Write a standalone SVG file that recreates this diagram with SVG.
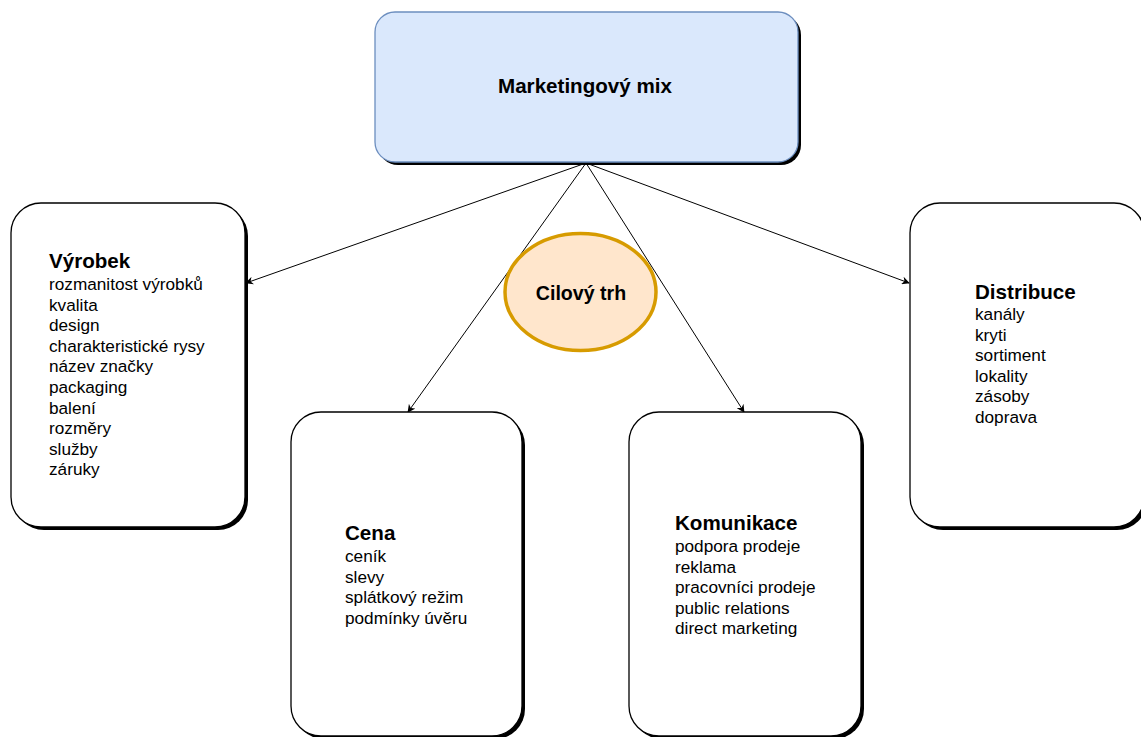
<svg xmlns="http://www.w3.org/2000/svg" width="1141" height="737" viewBox="0 0 1141 737">
<style>
.box{fill:#fff;stroke:#000;stroke-width:1.3}
.sh{fill:#000}
.t{font-family:"Liberation Sans",Arial,sans-serif;font-size:17.2px;fill:#000}
.b{font-weight:bold;font-size:20.6px}
.c{stroke:#000;stroke-width:1;fill:none;marker-end:url(#ah)}
</style>
<defs>
<marker id="ah" viewBox="0 0 10 10" refX="9" refY="5" markerWidth="8" markerHeight="8" orient="auto" markerUnits="userSpaceOnUse">
<path d="M0,0 L10,5 L0,10 L3,5 Z" fill="#000"/>
</marker>
</defs>
<g id="connectors">
<line class="c" x1="586" y1="163" x2="246" y2="283"/>
<line class="c" x1="586" y1="163" x2="408" y2="412"/>
<line class="c" x1="586" y1="163" x2="744" y2="412"/>
<line class="c" x1="586" y1="163" x2="909" y2="283"/>
</g>
<g id="mix">
<rect class="sh" x="378" y="15" width="423" height="150" rx="20"/>
<rect x="375" y="12" width="423" height="150" rx="20" fill="#dae8fc" stroke="#6c8ebf" stroke-width="1.3"/>
<text class="t b" x="585" y="93" text-anchor="middle">Marketingový mix</text>
</g>
<g id="vyrobek">
<rect class="sh" x="14" y="206" width="234" height="324" rx="30"/>
<rect class="box" x="11" y="203" width="234" height="324" rx="30"/>
<text class="t"><tspan class="b" x="49" y="268">Výrobek</tspan><tspan x="49" y="290">rozmanitost výrobků</tspan><tspan x="49" y="310.6">kvalita</tspan><tspan x="49" y="331.2">design</tspan><tspan x="49" y="351.8">charakteristické rysy</tspan><tspan x="49" y="372.4">název značky</tspan><tspan x="49" y="393">packaging</tspan><tspan x="49" y="413.6">balení</tspan><tspan x="49" y="434.2">rozměry</tspan><tspan x="49" y="454.8">služby</tspan><tspan x="49" y="475.4">záruky</tspan></text>
</g>
<g id="cena">
<rect class="sh" x="294" y="415" width="231" height="324" rx="30"/>
<rect class="box" x="291" y="412" width="231" height="324" rx="30"/>
<text class="t"><tspan class="b" x="345" y="540">Cena</tspan><tspan x="345" y="562">ceník</tspan><tspan x="345" y="582.6">slevy</tspan><tspan x="345" y="603.2">splátkový režim</tspan><tspan x="345" y="623.8">podmínky úvěru</tspan></text>
</g>
<g id="komunikace">
<rect class="sh" x="632" y="415" width="232" height="324" rx="30"/>
<rect class="box" x="629" y="412" width="232" height="324" rx="30"/>
<text class="t"><tspan class="b" x="675" y="530">Komunikace</tspan><tspan x="675" y="552">podpora prodeje</tspan><tspan x="675" y="572.6">reklama</tspan><tspan x="675" y="593.2">pracovníci prodeje</tspan><tspan x="675" y="613.8">public relations</tspan><tspan x="675" y="634.4">direct marketing</tspan></text>
</g>
<g id="distribuce">
<rect class="sh" x="913" y="206" width="234" height="324" rx="30"/>
<rect class="box" x="910" y="203" width="234" height="324" rx="30"/>
<text class="t"><tspan class="b" x="975" y="299">Distribuce</tspan><tspan x="975" y="320">kanály</tspan><tspan x="975" y="340.6">kryti</tspan><tspan x="975" y="361.2">sortiment</tspan><tspan x="975" y="381.8">lokality</tspan><tspan x="975" y="402.4">zásoby</tspan><tspan x="975" y="423">doprava</tspan></text>
</g>
<g id="cilovy">
<ellipse cx="580.5" cy="292" rx="75.5" ry="58.5" fill="#ffe6cc" stroke="#d79b00" stroke-width="3.5"/>
<text class="t b" x="581" y="300" text-anchor="middle" style="font-size:19.6px">Cilový trh</text>
</g>
</svg>
